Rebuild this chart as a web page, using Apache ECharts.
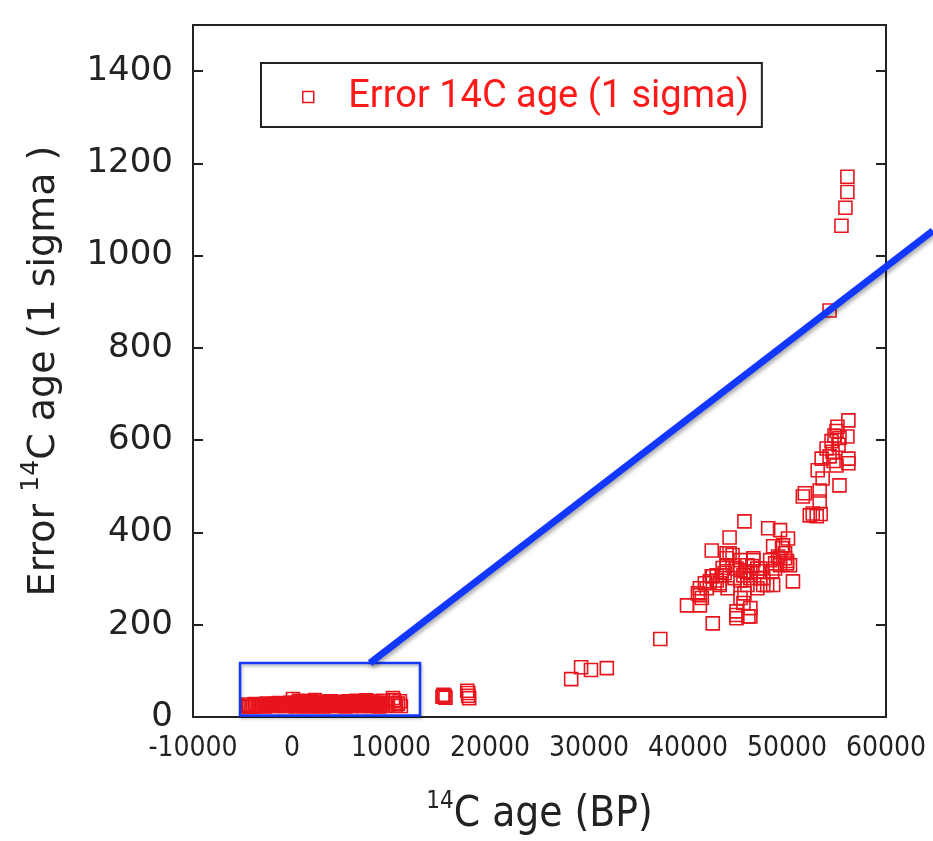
<!DOCTYPE html>
<html>
<head>
<meta charset="utf-8">
<script src="https://cdn.jsdelivr.net/npm/echarts@6/dist/echarts.min.js"></script>
<style>
html,body{margin:0;padding:0;background:#fff;}
#chart{width:933px;height:841px;}
</style>
</head>
<body>
<div id="chart"></div>
<script>
// 14C age (BP) and 1-sigma error
const ageHolocene = [-4500,-4300,-4100,-3900,-3600,-3300,-3000,-2700,-2400,-2100,-1800,-1500,-1200,-900,-600,-300,0,100,300,500,700,900,1100,1300,1500,1700,1900,2100,2300,2500,2700,2900,3100,3300,3500,3700,3900,4100,4300,4500,4700,4900,5100,5300,5500,5700,5900,6100,6300,6500,6700,6900,7100,7300,7500,7700,7900,8100,8300,8500,8700,8900,9100,9200,9500,10200,10300,10400,10500,10700,10900,11000];
const errHolocene = [24,22,25,23,26,24,25,23,27,26,24,28,25,27,24,29,26,39,31,25,35,28,32,24,30,27,34,29,37,26,31,24,33,28,30,25,34,27,31,24,29,33,26,31,28,34,25,30,27,35,29,24,32,28,36,26,31,34,27,24,30,28,26,35,24,41,36,30,25,29,34,24];
const ageHolocene2 = [-4400,-4000,-3750,-3450,-3150,-2850,-2550,-2250,-1950,-1650,-1350,-1050,-750,-450,-150,200,400,600,800,1000,1200,1400,1600,1800,2000,2200,2400,2600,2800,3000,3200,3400,3600,3800,4000,4200,4400,4600,4800,5000,5200,5400,5600,5800,6000,6200,6400,6600,6800,7000,7200,7400,7600,7800,8000,8200,8400,8600,8800,9000];
const errHolocene2 = [27,23,28,25,27,24,29,25,28,26,30,24,29,26,31,27,23,29,26,33,25,28,31,23,27,32,24,29,26,33,23,28,26,31,24,29,27,32,25,28,30,23,27,31,24,28,32,25,27,30,24,33,26,29,24,28,31,26,23,31];

const ageMid = [15200,15300,15400,15500,17700,17800,17800,17900,28200,29200,30200,31800,37200];
const errMid = [44,48,46,42,57,52,46,41,82,108,102,106,169];

const ageMIS3 = [39900,41200,41200,41200,41700,42200,42500,42900,43200,43500,43700,43900,44200,44500,44000,42400,44200,45700,42500,44900,44900,46300,46300,45300,45700,46600,47000,47300,47600,47000,46000,45600,46000,45300,46300,44700,48600,50600,48100,49300,50100,49600,48600,49300,50000,48300,48800,50300,49800,41900,42900,43400,43900,43900,44500,45300,46600,47000,46300,47600,48000,44900,46100,45600,41000,41400,42400,43200,44900,45300,45800,46500,47300,48500,48800,49100,49500,49800,49300,50000];
const errMIS3 = [242,242,264,279,290,294,305,307,286,323,312,344,355,329,279,361,389,424,203,229,214,236,218,258,268,344,322,301,286,279,286,307,329,318,312,301,286,294,409,405,387,372,370,344,338,340,322,329,355,279,296,307,329,355,351,340,340,316,301,301,286,221,218,247,268,258,305,290,322,296,316,327,322,316,333,348,366,344,329,333];

const ageOld = [56200,55100,55000,54800,55300,56100,54000,54600,55200,56200,56200,53500,54700,55000,53100,53600,55300,53300,51800,51600,53300,52600,53000,52300,53400,54300,54500,56100,56100,55900,55500,54300];
const errOld = [643,629,620,610,605,608,582,575,590,560,550,560,555,545,535,517,502,491,485,478,467,441,435,437,440,565,598,1171,1138,1104,1065,881];

const xTicks = {min:-10000, max:60000, step:10000};
const yTicks = {min:0, max:1500, step:200};

// annotation (zoom box and pointer line) in data units
const zoomBox = {x0:-5250, y0:3, x1:12930, y1:117};
const pointer = {x0:7880, y0:117, x1:64740, y1:1054};

const seriesName = 'Error 14C age (1 sigma)';
const ages = [].concat(ageHolocene, ageHolocene2, ageMid, ageMIS3, ageOld);
const errs = [].concat(errHolocene, errHolocene2, errMid, errMIS3, errOld);
const points = ages.map((a,i)=>[a, errs[i]]);

const RED = '#e8141c';
const AX = '#222';
const chart = echarts.init(document.getElementById('chart'), null, {renderer:'canvas'});

const axisLineStyle = {show:true, onZero:false, lineStyle:{color:AX, width:2}};
const plain = v => String(v);
chart.setOption({
  animation:false,
  backgroundColor:'#fff',
  grid:{left:193, right:47, top:25, bottom:122, containLabel:false},
  legend:{
    left:261, top:63,
    padding:[15,13,11,41],
    borderColor:AX, borderWidth:2,
    itemWidth:70, itemHeight:11,
    icon:'path://M0,0H10V10H0Z',
    itemStyle:{color:'rgba(0,0,0,0)', borderColor:RED, borderWidth:1.5},
    textStyle:{color:'#ff1a1a', fontSize:38, fontFamily:'Roboto, "Noto Sans", sans-serif'},
    data:[seriesName]
  },
  xAxis:[{
    type:'value', position:'bottom',
    min:xTicks.min, max:xTicks.max, interval:xTicks.step,
    axisLine:axisLineStyle, axisTick:{show:false}, splitLine:{show:false},
    axisLabel:{color:AX, fontSize:28, margin:18, formatter:plain, fontFamily:'"DejaVu Sans Condensed", "Liberation Sans Narrow", sans-serif'},
    name:'{sup|14}{main|C age (BP)}',
    nameLocation:'middle', nameGap:73,
    nameTextStyle:{
      rich:{
        sup:{fontSize:24, color:AX, verticalAlign:'top', lineHeight:46, fontFamily:'"DejaVu Sans Condensed", sans-serif'},
        main:{fontSize:42, color:AX, verticalAlign:'bottom', lineHeight:46, fontFamily:'"DejaVu Sans Condensed", sans-serif'}
      }
    }
  },{
    type:'value', position:'top',
    min:xTicks.min, max:xTicks.max, interval:xTicks.step,
    axisLine:axisLineStyle, axisTick:{show:false}, axisLabel:{show:false}, splitLine:{show:false}
  }],
  yAxis:[{
    type:'value', position:'left',
    min:yTicks.min, max:yTicks.max, interval:yTicks.step,
    axisLine:axisLineStyle,
    axisTick:{show:true, inside:true, length:10, lineStyle:{color:AX, width:2}},
    splitLine:{show:false},
    axisLabel:{color:AX, fontSize:34, margin:20, formatter:plain, fontFamily:'"DejaVu Sans", sans-serif', showMaxLabel:false},
    name:'{main|Error }{sup|14}{main|C age (1 sigma )}',
    nameLocation:'middle', nameRotate:90, nameGap:130,
    nameTextStyle:{
      rich:{
        sup:{fontSize:25, color:AX, verticalAlign:'top', lineHeight:44, fontFamily:'"DejaVu Sans", sans-serif'},
        main:{fontSize:38, color:AX, verticalAlign:'bottom', lineHeight:44, fontFamily:'"DejaVu Sans", sans-serif'}
      }
    }
  },{
    type:'value', position:'right',
    min:yTicks.min, max:yTicks.max, interval:yTicks.step,
    axisLine:axisLineStyle,
    axisTick:{show:true, inside:true, length:10, lineStyle:{color:AX, width:2}},
    axisLabel:{show:false}, splitLine:{show:false}
  }],
  series:[{
    name:seriesName,
    type:'scatter',
    symbol:'rect',
    symbolSize:13,
    itemStyle:{color:'rgba(0,0,0,0)', borderColor:RED, borderWidth:1.6, opacity:1},
    data:points,
    clip:true
  }]
});

function px(x,y){ return chart.convertToPixel({xAxisIndex:0, yAxisIndex:0}, [x,y]); }
const b0 = px(zoomBox.x0, zoomBox.y0), b1 = px(zoomBox.x1, zoomBox.y1);
const p0 = px(pointer.x0, pointer.y0), p1 = px(pointer.x1, pointer.y1);
const BLUE = '#1238ff';
chart.setOption({
  graphic:[
    {type:'rect', z:100, shape:{x:Math.min(b0[0],b1[0]), y:Math.min(b0[1],b1[1]), width:Math.abs(b1[0]-b0[0]), height:Math.abs(b1[1]-b0[1])},
     style:{fill:null, stroke:BLUE, lineWidth:2.5, shadowBlur:3, shadowColor:'rgba(0,0,0,0.3)', shadowOffsetX:1, shadowOffsetY:2}},
    {type:'line', z:100, shape:{x1:p0[0], y1:p0[1], x2:p1[0], y2:p1[1]},
     style:{stroke:BLUE, lineWidth:7, shadowBlur:4, shadowColor:'rgba(0,0,0,0.35)', shadowOffsetX:1, shadowOffsetY:3}}
  ]
});
</script>
</body>
</html>
